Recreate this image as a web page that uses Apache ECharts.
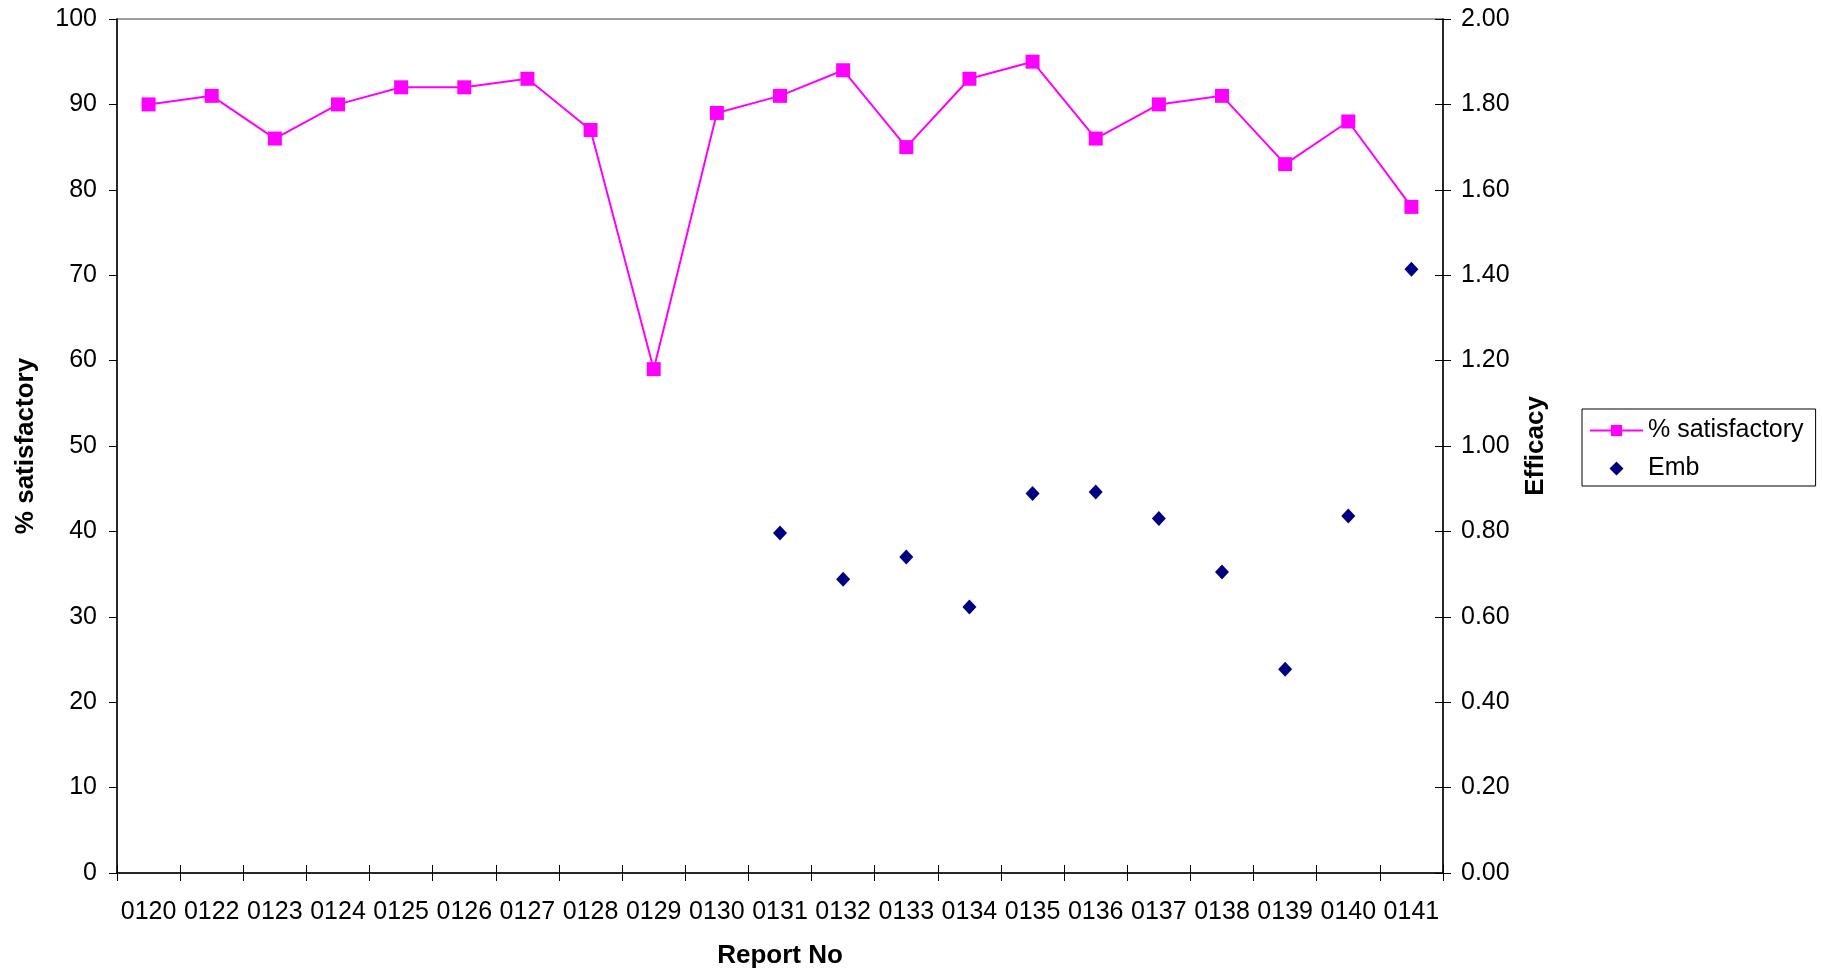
<!DOCTYPE html>
<html>
<head>
<meta charset="utf-8">
<script src="https://cdn.jsdelivr.net/npm/echarts@6/dist/echarts.min.js"></script>
<style>html,body{margin:0;padding:0;background:#fff}#c{width:1822px;height:974px}</style>
</head>
<body>
<div id="c"></div>
<script>
const categories = ['0120','0122','0123','0124','0125','0126','0127','0128','0129','0130','0131','0132','0133','0134','0135','0136','0137','0138','0139','0140','0141'];
const satisfactory = [90,91,86,90,92,92,93,87,59,89,91,94,85,93,95,86,90,91,83,88,78];
const emb = [null,null,null,null,null,null,null,null,null,null,0.796,0.688,0.740,0.623,0.889,0.892,0.830,0.705,0.477,0.836,1.414];
const leftTicks = {min:0, max:100, interval:10};
const rightTicks = {min:0, max:2, interval:0.2};

const FONT = 'Liberation Sans, Arial, sans-serif';
const diamondIcon = 'path://M0,7L0.01,7ZM26.5,0L33.5,7L26.5,14L19.5,7ZM52.99,7L53,7Z';
const chart = echarts.init(document.getElementById('c'));
chart.setOption({
  animation:false,
  backgroundColor:'#fff',
  textStyle:{fontFamily:FONT},
  grid:{left:117,right:379,top:19,bottom:99,show:true,borderColor:'#808080',borderWidth:1.5},
  legend:{
    orient:'vertical', left:1582, top:409,
    padding:[9,12,5,7], itemGap:13, itemWidth:53, itemHeight:14,
    borderColor:'#000', borderWidth:1,
    textStyle:{fontSize:25,color:'#000',fontFamily:FONT,lineHeight:25},
    data:[{name:'% satisfactory'},{name:'Emb',icon:diamondIcon}]
  },
  xAxis:[{
    type:'category', data:categories, boundaryGap:true,
    axisLine:{lineStyle:{color:'#000',width:1.5}},
    axisTick:{show:true,interval:0,length:8,lineStyle:{color:'#000'}},
    axisLabel:{interval:0,fontSize:25,color:'#000',margin:27,fontFamily:FONT},
    name:'Report No', nameLocation:'middle', nameGap:70,
    nameTextStyle:{fontSize:26,fontWeight:'bold',color:'#000',fontFamily:FONT}
  },{
    type:'category', data:categories, boundaryGap:true, position:'bottom',
    axisLine:{show:false}, axisLabel:{show:false},
    axisTick:{show:true,inside:true,interval:0,length:8,lineStyle:{color:'#000'}}
  }],
  yAxis:[{
    type:'value', min:leftTicks.min, max:leftTicks.max, interval:leftTicks.interval, position:'left',
    splitLine:{show:false},
    axisLine:{show:true,lineStyle:{color:'#000',width:1.5}},
    axisTick:{show:true,length:8,lineStyle:{color:'#000'}},
    axisLabel:{fontSize:25,color:'#000',margin:20,fontFamily:FONT},
    name:'% satisfactory', nameLocation:'middle', nameGap:78, nameRotate:90,
    nameTextStyle:{fontSize:26,fontWeight:'bold',color:'#000',fontFamily:FONT}
  },{
    type:'value', min:rightTicks.min, max:rightTicks.max, interval:rightTicks.interval, position:'right',
    splitLine:{show:false},
    axisLine:{show:true,lineStyle:{color:'#000',width:1.5}},
    axisTick:{show:true,length:8,lineStyle:{color:'#000'}},
    axisLabel:{fontSize:25,color:'#000',margin:18,fontFamily:FONT,formatter:v=>v.toFixed(2)},
    name:'Efficacy', nameLocation:'middle', nameGap:80, nameRotate:90,
    nameTextStyle:{fontSize:26,fontWeight:'bold',color:'#000',fontFamily:FONT}
  },{
    type:'value', min:rightTicks.min, max:rightTicks.max, interval:rightTicks.interval, position:'right',
    splitLine:{show:false}, axisLine:{show:false}, axisLabel:{show:false},
    axisTick:{show:true,inside:true,length:8,lineStyle:{color:'#000'}}
  }],
  series:[{
    name:'% satisfactory', type:'line', data:satisfactory, xAxisIndex:0, yAxisIndex:0,
    symbol:'rect', symbolSize:14, showAllSymbol:true,
    lineStyle:{color:'#FF00FF',width:2}, itemStyle:{color:'#FF00FF'}
  },{
    name:'Emb', type:'scatter', data:emb, xAxisIndex:0, yAxisIndex:1,
    symbol:'diamond', symbolSize:[14,15],
    itemStyle:{color:'#000080',opacity:1}
  }]
});
</script>
</body>
</html>
